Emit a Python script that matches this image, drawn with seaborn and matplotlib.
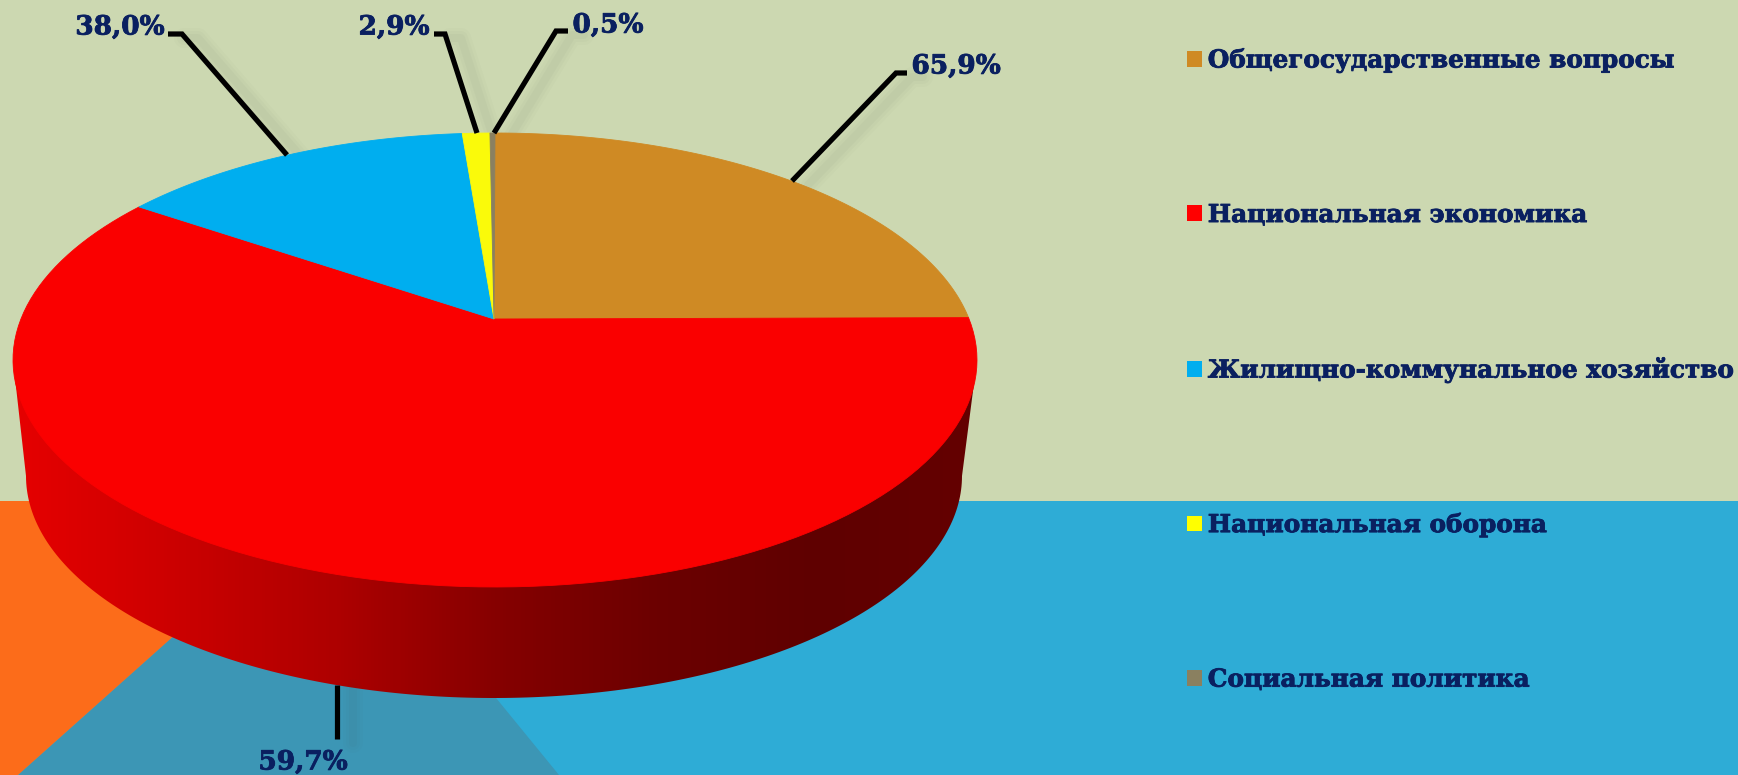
import numpy as np
import seaborn as sns
import matplotlib.pyplot as plt
import matplotlib.patheffects as pe
from matplotlib.colors import LinearSegmentedColormap
from matplotlib.patches import Patch, Polygon

categories = ["Общегосударственные вопросы", "Национальная экономика",
              "Жилищно-коммунальное хозяйство", "Национальная оборона",
              "Социальная политика"]
# drawn slice sizes (the printed labels are not shares)
shares = [24.9, 59.6, 14.2, 1.1, 0.2]
value_labels = ["65,9%", "59,7%", "38,0%", "2,9%", "0,5%"]
colors = ["#CF8A24", "#FA0000", "#00AEEF", "#FAFA0A", "#8A8060"]
legend_colors = ["#CF8A24", "#FF0000", "#00AEEF", "#FFFF00", "#8A8060"]

NAVY = "#0A2060"
DPI = 100
W, H = 1738, 775

# pie geometry, in pixels
CX, CY, A, B = 495, 360, 482, 227
APEX_Y = 319
BASE_CX, BASE_CY, BASE_A, BASE_B = 494, 476, 468, 222


def project(angle):
    """clockwise angle from 12 o'clock -> picture, apex pushed back for perspective"""
    v0 = (APEX_Y - CY) / B
    X, Y = np.sin(angle), -np.cos(angle)
    d = 1 + v0 * Y
    return CX + A * X * np.sqrt(1 - v0 ** 2) / d, CY + B * (Y + v0) / d


sns.set_theme(style="white")
plt.rcParams["font.family"] = ["DejaVu Serif", "DejaVu Sans"]

fig = plt.figure(figsize=(W / DPI, H / DPI), dpi=DPI, facecolor="#CCD8B1")
ax = fig.add_axes([0, 0, 1, 1])
ax.set_xlim(0, W)
ax.set_ylim(H, 0)
ax.axis("off")

# backdrop
ax.fill([0, W, W, 0], [501, 501, H, H], color="#2EACD6", lw=0, zorder=0)
ax.fill([18, 214, 416, 559], [H, 600, 600, H], color="#3C96B5", lw=0, zorder=1)
ax.fill([0, 325, 18, 0], [501, 501, H, H], color="#FC6C1A", lw=0, zorder=2)

# side wall
t = np.linspace(np.pi, 0, 200)
wall_x = np.r_[CX - A, BASE_CX + BASE_A * np.cos(t), CX + A]
wall_y = np.r_[CY, BASE_CY + BASE_B * np.sin(t), CY]
wall_cmap = LinearSegmentedColormap.from_list(
    "wall", ["#E60000", "#CC0000", "#AE0000", "#860000", "#6C0000", "#5F0000", "#640000"])
img = ax.imshow(np.linspace(0, 1, 256)[None, :], cmap=wall_cmap, aspect="auto",
                extent=[CX - A, CX + A, H, 0], zorder=3)
img.set_clip_path(Polygon(np.c_[wall_x, wall_y], transform=ax.transData))
ax.set_xlim(0, W)
ax.set_ylim(H, 0)

# top face
edges = np.cumsum([0] + shares) / sum(shares) * 2 * np.pi
for start, stop, color in zip(edges[:-1], edges[1:], colors):
    arc = np.linspace(start, stop, 120)
    x, y = project(arc)
    ax.fill(np.r_[CX - 1, x], np.r_[APEX_Y, y], color=color, lw=0.6, zorder=4)

# leader lines with their soft shadow, then the labels
leaders = [
    ([907, 896, 792], [73, 73, 181]),
    ([337, 337], [739, 685]),
    ([168, 182, 287], [34, 34, 155]),
    ([434, 445, 477], [34, 34, 133]),
    ([568, 556, 494], [31, 31, 133]),
]
for lx, ly in leaders:
    for width, alpha in [(20, 0.02), (14, 0.025), (8, 0.03)]:
        ax.plot(np.array(lx) + 16, np.array(ly) + 4, color="#404040", lw=width * 72 / DPI,
                alpha=alpha, solid_capstyle="round", zorder=3.5 if ly[-1] > 600 else 0.5)
    ax.plot(lx, ly, color="black", lw=5.2 * 72 / DPI, solid_joinstyle="miter",
            solid_capstyle="butt", zorder=5)

heavy = [pe.withStroke(linewidth=0.6, foreground=NAVY)]
label_pos = [(956, 66), (303, 762), (120, 27), (394, 27), (608, 25)]
for (lx, ly), text in zip(label_pos, value_labels):
    ax.text(lx, ly, text, color=NAVY, fontsize=19, fontweight="bold",
            ha="center", va="center", zorder=6, path_effects=heavy)

# legend
handles = [Patch(facecolor=c, edgecolor="none") for c in legend_colors]
leg = ax.legend(handles, categories, loc="upper left",
                bbox_to_anchor=(1187 / W, 1 - 48.5 / H), frameon=False,
                prop={"weight": "bold", "size": 17.8}, labelcolor=NAVY,
                labelspacing=5.28, handlelength=0.6, handleheight=0.6,
                handletextpad=0.24, borderpad=0, borderaxespad=0)
leg.set_zorder(6)
for txt in leg.get_texts():
    txt.set_path_effects(heavy)

fig.savefig("out.png", dpi=DPI, facecolor=fig.get_facecolor())
plt.close()
